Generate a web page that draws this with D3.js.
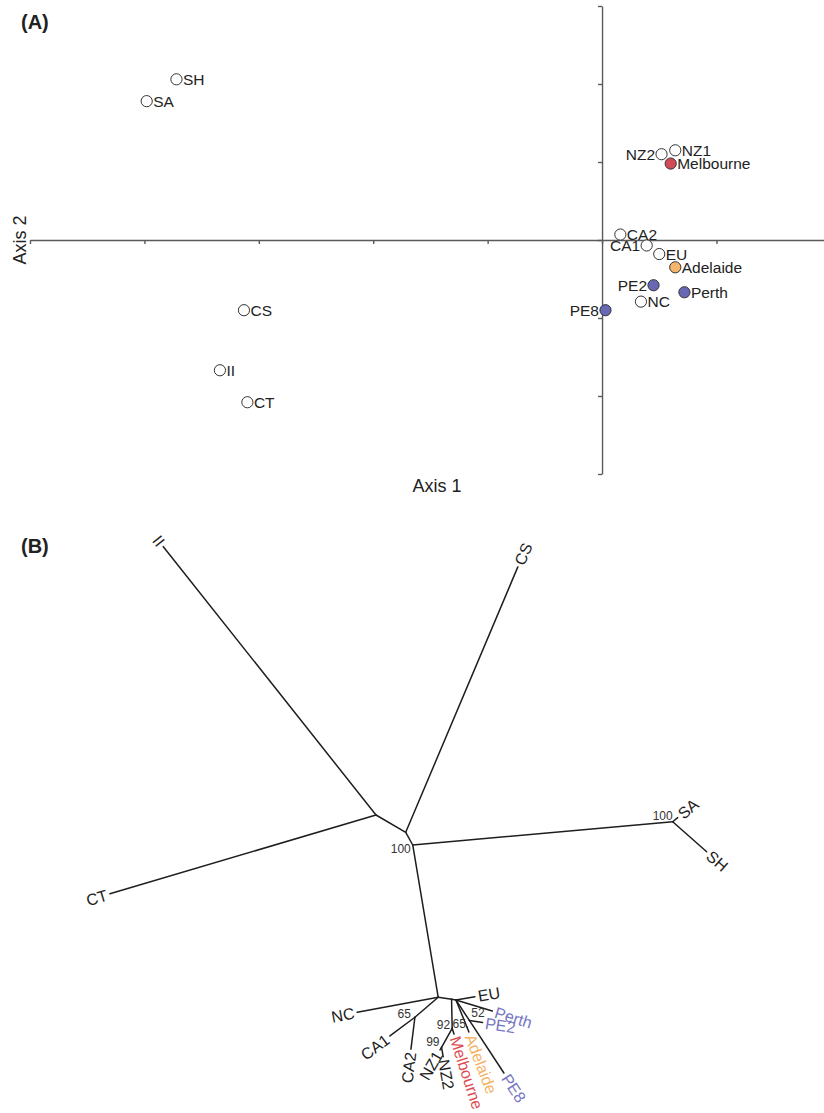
<!DOCTYPE html>
<html>
<head>
<meta charset="utf-8">
<script src="https://cdn.jsdelivr.net/npm/d3@7"></script>
<style>
  html, body { margin: 0; padding: 0; background: #fff; }
  svg { display: block; font-family: "Liberation Sans", Arial, sans-serif; }
</style>
</head>
<body>
<svg id="fig" width="824" height="1113"></svg>
<script>
// ---- Panel A: ordination scores ----
const popNames = ["SH", "SA", "CS", "II", "CT", "NZ2", "NZ1", "Melbourne", "CA2", "CA1", "EU", "Adelaide", "PE2", "Perth", "NC", "PE8"];
const axis1Scores = [-3.72, -3.98, -3.13, -3.34, -3.10, 0.52, 0.64, 0.60, 0.16, 0.39, 0.50, 0.64, 0.45, 0.72, 0.34, 0.03];
const axis2Scores = [2.06, 1.78, -0.90, -1.67, -2.08, 1.10, 1.15, 0.98, 0.07, -0.07, -0.18, -0.35, -0.58, -0.67, -0.79, -0.90];
const popGroup = ["other", "other", "other", "other", "other", "other", "other", "Melbourne", "other", "other", "other", "Adelaide", "Perth", "Perth", "other", "Perth"];
const labelLeft = ["NZ2", "CA1", "PE2", "PE8"];
const axis1Ticks = [-5, -4, -3, -2, -1, 0, 1];
const axis2Ticks = [-3, -2, -1, 0, 1, 2, 3];

// ---- Panel B: unrooted neighbour-joining tree (branch length, direction in degrees) ----
const treeNodes = ["A", "II", "CT", "B", "CS", "C", "D", "SA", "SH", "E", "NC", "F", "CA1", "CA2", "G", "I", "Melbourne", "J", "NZ1", "NZ2", "K", "EU", "Perth", "M", "Adelaide", "N", "PE2", "PE8"];
const treeParents = [null, "A", "A", "A", "B", "B", "C", "D", "D", "C", "E", "E", "F", "F", "E", "G", "I", "I", "J", "J", "G", "K", "K", "K", "M", "K", "N", "N"];
const branchLengths = [0, 3.424, 2.775, 0.344, 2.881, 0.145, 2.610, 0.065, 0.453, 1.544, 0.824, 0.307, 0.312, 0.322, 0.135, 0.290, 0.060, 0.218, 0.030, 0.095, 0.044, 0.193, 0.380, 0.292, 0.054, 0.245, 0.133, 0.629];
const branchAngles = [0, 128.4, 196.5, -30.2, 67.1, -61.1, 5.1, 40, -41.4, -80.5, 190.5, 220.6, 216.8, 262.9, -8.5, -88.8, -72, 240.8, 240, -80, -9, 9.9, -17, -67.8, -69, -56.7, -9, -56.7];
const supportNodes = ["C", "D", "F", "I", "J", "M", "N"];
const supportValues = [100, 100, 65, 92, 99, 65, 52];

const groupFill = { other: "#ffffff", Melbourne: "#d24a55", Adelaide: "#f5b56d", Perth: "#6767b4" };
const tipColor = { Melbourne: "#dd4b50", Adelaide: "#f5b263", Perth: "#7676c4", PE2: "#7676c4", PE8: "#7676c4" };

const svg = d3.select("#fig");

// ================= Panel A =================
const x = d3.scaleLinear().domain([-5, 1.94]).range([30, 824]);
const y = d3.scaleLinear().domain([-3, 3]).range([474, 6]);
const axisColor = "#5a5a5a";

const gA = svg.append("g");

const xAxis = gA.append("g")
  .attr("transform", `translate(0,${y(0)})`)
  .call(d3.axisBottom(x).tickValues(axis1Ticks).tickSize(4).tickSizeOuter(0).tickFormat(""));
const yAxis = gA.append("g")
  .attr("transform", `translate(${x(0)},0)`)
  .call(d3.axisLeft(y).tickValues(axis2Ticks).tickSize(4).tickSizeOuter(0).tickFormat(""));
[xAxis, yAxis].forEach(g => {
  g.selectAll("path, line").attr("stroke", axisColor).attr("stroke-width", 1.4);
});

const pts = popNames.map((n, i) => ({ name: n, a1: axis1Scores[i], a2: axis2Scores[i], group: popGroup[i] }));

gA.selectAll("circle.pop").data(pts).join("circle")
  .attr("class", "pop")
  .attr("cx", d => x(d.a1))
  .attr("cy", d => y(d.a2))
  .attr("r", 5.6)
  .attr("fill", d => groupFill[d.group])
  .attr("stroke", "#333")
  .attr("stroke-width", 1);

gA.selectAll("text.pop").data(pts).join("text")
  .attr("class", "pop")
  .attr("x", d => x(d.a1) + (labelLeft.includes(d.name) ? -6.5 : 6.5))
  .attr("y", d => y(d.a2))
  .attr("dy", "0.36em")
  .attr("text-anchor", d => labelLeft.includes(d.name) ? "end" : "start")
  .attr("font-size", 15.5)
  .attr("fill", "#222")
  .text(d => d.name);

gA.append("text").attr("x", 21).attr("y", 29)
  .attr("font-size", 20).attr("font-weight", "bold").attr("fill", "#222").text("(A)");
gA.append("text").attr("x", 437).attr("y", 492)
  .attr("text-anchor", "middle").attr("font-size", 18).attr("fill", "#222").text("Axis 1");
gA.append("text")
  .attr("transform", `translate(26,${y(0)}) rotate(-90)`)
  .attr("text-anchor", "middle").attr("font-size", 18).attr("fill", "#222").text("Axis 2");

// ================= Panel B =================
const gB = svg.append("g");
gB.append("text").attr("x", 21).attr("y", 553)
  .attr("font-size", 20).attr("font-weight", "bold").attr("fill", "#222").text("(B)");

// tree layout: accumulate branch vectors from the central node
const nodeById = new Map();
treeNodes.forEach((id, i) => nodeById.set(id, { id, parent: treeParents[i], len: branchLengths[i], angle: branchAngles[i], children: [] }));
nodeById.forEach(n => { if (n.parent) nodeById.get(n.parent).children.push(n); });
const root = nodeById.get("A");
(function place(n, px, py) {
  const rad = n.angle * Math.PI / 180;
  n.u = px + n.len * Math.cos(rad);
  n.v = py + n.len * Math.sin(rad);
  n.children.forEach(c => place(c, n.u, n.v));
})(root, 0, 0);

const tx = d3.scaleLinear().domain([0, 1]).range([376, 476]);
const ty = d3.scaleLinear().domain([0, 1]).range([815, 715]);

const edges = [...nodeById.values()].filter(n => n.parent).map(n => ({ src: nodeById.get(n.parent), dst: n }));
gB.selectAll("line.branch").data(edges).join("line")
  .attr("class", "branch")
  .attr("x1", d => tx(d.src.u)).attr("y1", d => ty(d.src.v))
  .attr("x2", d => tx(d.dst.u)).attr("y2", d => ty(d.dst.v))
  .attr("stroke", "#1e1e1e").attr("stroke-width", 1.5).attr("stroke-linecap", "round");

// tip labels, running along the branch direction and kept upright
const tips = [...nodeById.values()].filter(n => n.children.length === 0);
gB.selectAll("text.tip").data(tips).join("text")
  .attr("class", "tip")
  .attr("transform", d => {
    const screenAng = -d.angle;
    const rad = screenAng * Math.PI / 180;
    const px = tx(d.u) + 3 * Math.cos(rad);
    const py = ty(d.v) + 3 * Math.sin(rad);
    let a = ((screenAng % 360) + 540) % 360 - 180;
    const flip = Math.abs(a) > 90;
    d.anchor = flip ? "end" : "start";
    return `translate(${px},${py}) rotate(${flip ? a + 180 : a})`;
  })
  .attr("text-anchor", d => d.anchor)
  .attr("dy", "0.36em")
  .attr("font-size", 16)
  .attr("fill", d => tipColor[d.id] || "#222")
  .text(d => d.id);

// bootstrap support next to internal nodes
const supportOffset = { C: [-2, 4, "end"], D: [0, -6, "end"], F: [-4, -4, "end"], I: [-2, -4, "end"], J: [-2, -6, "end"], M: [-1, -3, "end"], N: [2, -8, "start"] };
const supports = supportNodes.map((id, i) => ({ node: nodeById.get(id), value: supportValues[i] }));
gB.selectAll("text.support").data(supports).join("text")
  .attr("class", "support")
  .attr("x", d => tx(d.node.u) + supportOffset[d.node.id][0])
  .attr("y", d => ty(d.node.v) + supportOffset[d.node.id][1])
  .attr("dy", "0.36em")
  .attr("text-anchor", d => supportOffset[d.node.id][2])
  .attr("font-size", 12)
  .attr("fill", "#333")
  .text(d => d.value);
</script>
</body>
</html>
